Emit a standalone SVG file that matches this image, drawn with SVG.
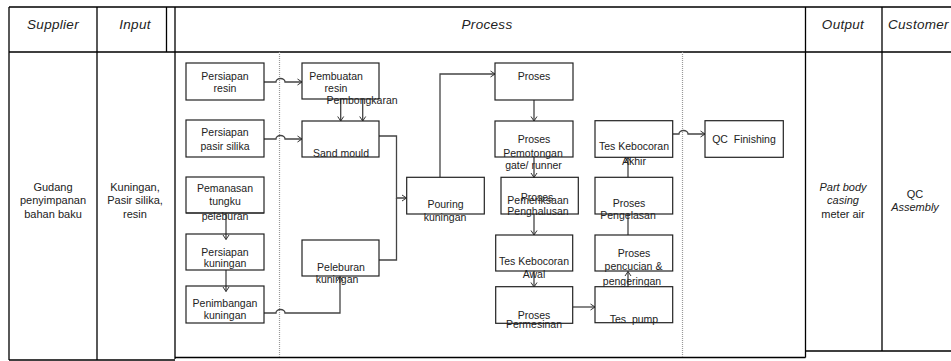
<svg xmlns="http://www.w3.org/2000/svg" width="951" height="361" viewBox="0 0 951 361">
<defs>
<marker id="arr" markerUnits="userSpaceOnUse" markerWidth="8" markerHeight="8" refX="6" refY="4" orient="auto">
<path d="M1.5,1 L6,4 L1.5,7" fill="none" stroke="#333" stroke-width="1"/>
</marker>
<style>
.tbl{stroke:#000;stroke-width:1.3;fill:none}
.dot{stroke:#999;stroke-width:1.2;stroke-dasharray:1 1;fill:none}
.box{fill:#fff;stroke:#222;stroke-width:1.2}
.cn{fill:none;stroke:#444;stroke-width:1.3}
.ca{fill:none;stroke:#444;stroke-width:1.3;marker-end:url(#arr)}
text{font-family:"Liberation Sans",Arial,sans-serif;fill:#222}
.h{font-size:13.5px;font-style:italic;letter-spacing:0.3px;text-anchor:middle}
.t{font-size:10.5px;text-anchor:middle}
.s{font-size:11px;text-anchor:middle}
.i{font-style:italic}
</style>
</defs>
<rect width="951" height="361" fill="#fff"/>
<g id="table">
<path class="tbl" d="M9,7 H951 M9,52 H951 M9,7 V360 M97,7 V360 M166.5,7 V52 M175,7 V359 M9,360 H175 M175,357.5 H805.5 M805.5,7 V357.5 M882,7 V351 M805.5,351 H951"/>
<path class="dot" d="M279.5,52 V357 M682.5,52 V357"/>
<text class="h" x="53" y="28.5">Supplier</text>
<text class="h" x="135" y="28.5">Input</text>
<text class="h" x="487" y="28.5">Process</text>
<text class="h" x="843" y="28.5">Output</text>
<text class="h" x="888" y="28.5" style="text-anchor:start">Customer</text>
</g>
<g id="supplier">
<text class="s" x="53" y="190.5">Gudang</text>
<text class="s" x="53" y="204">penyimpanan</text>
<text class="s" x="53" y="217.5">bahan baku</text>
</g>
<g id="input">
<text class="s" x="135" y="190.5">Kuningan,</text>
<text class="s" x="135" y="204">Pasir silika,</text>
<text class="s" x="135" y="217.5">resin</text>
</g>
<g id="connectors">
<path class="ca" d="M264,82 H276 A4.5,3.5 0 0 1 285,82 H302"/>
<path class="ca" d="M264,139 H276 A4.5,3.5 0 0 1 285,139 H302"/>
<path class="ca" d="M226,213 V239.5"/>
<path class="ca" d="M226,270 V291.5"/>
<path class="ca" d="M264,313 H276 A4.5,3.5 0 0 1 285,313 H340 V276.5"/>
<path class="ca" d="M340.7,99 V121"/>
<path class="ca" d="M362.7,99 V121"/>
<path class="ca" d="M379,136 H396.5 V198 H406.5"/>
<path class="cn" d="M379,260 H396.5 V198"/>
<path class="ca" d="M440,177 V74 H495"/>
<path class="ca" d="M534,100 V121"/>
<path class="ca" d="M534,157 V177.5"/>
<path class="ca" d="M534,214 V235"/>
<path class="ca" d="M534,271 V287"/>
<path class="ca" d="M573,307 H595"/>
<path class="ca" d="M628,287 V271.5"/>
<path class="cn" d="M628,235 V214"/>
<path class="ca" d="M628,177 V157.5"/>
<path class="ca" d="M673,134 H679 A4.5,3.5 0 0 1 688,134 H705"/>
</g>
<g id="persiapan-resin">
<rect class="box" x="186" y="63" width="78" height="37"/>
<text class="t" x="225" y="79.5">Persiapan</text>
<text class="t" x="225" y="91.5">resin</text>
</g>
<g id="persiapan-pasir">
<rect class="box" x="186" y="120" width="78" height="37"/>
<text class="t" x="225" y="136">Persiapan</text>
<text class="t" x="225" y="149.7">pasir silika</text>
</g>
<g id="pemanasan">
<rect class="box" x="186" y="177" width="78" height="36"/>
<text class="t" x="225" y="192">Pemanasan</text>
<text class="t" x="225" y="204.5">tungku</text>
<text class="t" x="225" y="219.7">peleburan</text>
<path d="M186,213 H264" stroke="#222" stroke-width="1.2"/>
</g>
<g id="persiapan-kuningan">
<rect class="box" x="186" y="234" width="78" height="36" fill-opacity="0"/>
<text class="t" x="225" y="255.5">Persiapan</text>
<text class="t" x="225" y="266.5">kuningan</text>
</g>
<g id="penimbangan">
<rect class="box" x="186" y="286" width="78" height="37" fill-opacity="0"/>
<text class="t" x="225" y="306.5">Penimbangan</text>
<text class="t" x="225" y="318.7">kuningan</text>
</g>
<g id="pembuatan-resin">
<rect class="box" x="302" y="63" width="77" height="36"/>
<text class="t" x="336" y="79.7">Pembuatan</text>
<text class="t" x="336" y="91.5">resin</text>
</g>
<g id="sand-mould">
<rect class="box" x="302" y="121" width="77" height="36"/>
<text class="t" x="362" y="103.7">Pembongkaran</text>
<text class="t" x="341" y="157">Sand mould</text>
</g>
<g id="peleburan">
<rect class="box" x="302" y="240" width="77" height="36"/>
<text class="t" x="341" y="270.5">Peleburan</text>
<text class="t" x="337" y="282.5">kuningan</text>
</g>
<g id="pouring">
<rect class="box" x="406.7" y="177.3" width="77.6" height="36.7"/>
<text class="t" x="445.5" y="207.7">Pouring</text>
<text class="t" x="445" y="220.5">kuningan</text>
</g>
<g id="proses">
<rect class="box" x="495" y="63" width="78" height="37"/>
<text class="t" x="534" y="79.5">Proses</text>
</g>
<g id="pemotongan">
<rect class="box" x="495" y="121" width="78" height="36" fill-opacity="0"/>
<text class="t" x="534" y="142.5">Proses</text>
<text class="t" x="533" y="156.5">Pemotongan</text>
<text class="t" x="533.5" y="168.7">gate/ runner</text>
</g>
<g id="pemeriksaan">
<rect class="box" x="501" y="177.3" width="77.3" height="36.7" fill-opacity="0"/>
<text class="t" x="537" y="201.2">Proses</text>
<text class="t" x="538" y="203.8">Pemeriksaan</text>
<text class="t" x="538" y="214.5">Penghalusan</text>
</g>
<g id="tes-awal">
<rect class="box" x="495.7" y="235" width="77" height="36" fill-opacity="0"/>
<text class="t" x="534" y="265.4">Tes Kebocoran</text>
<text class="t" x="534" y="277.7">Awal</text>
</g>
<g id="permesinan">
<rect class="box" x="495.7" y="286.7" width="77" height="36.6" fill-opacity="0"/>
<text class="t" x="534" y="318.7">Proses</text>
<text class="t" x="534" y="327.7">Permesinan</text>
</g>
<g id="tes-pump">
<rect class="box" x="595" y="286.7" width="77.7" height="36" fill-opacity="0"/>
<text class="t" x="634" y="323" xml:space="preserve">Tes  pump</text>
</g>
<g id="pencucian">
<rect class="box" x="595" y="235" width="77.7" height="36" fill-opacity="0"/>
<text class="t" x="634" y="257">Proses</text>
<text class="t" x="633.5" y="270.4">pencucian &amp;</text>
<text class="t" x="632" y="284.7">pengeringan</text>
</g>
<g id="pengelasan">
<rect class="box" x="595" y="177.3" width="77.7" height="36.7" fill-opacity="0"/>
<text class="t" x="629" y="207">Proses</text>
<text class="t" x="628" y="218.7">Pengelasan</text>
</g>
<g id="tes-akhir">
<rect class="box" x="595" y="120.7" width="77.7" height="36.6" fill-opacity="0"/>
<text class="t" x="634" y="150.4">Tes Kebocoran</text>
<text class="t" x="634" y="164.7">Akhir</text>
</g>
<g id="qc-finishing">
<rect class="box" x="705" y="120.7" width="78.3" height="36.6"/>
<text class="t" x="744" y="142.7" xml:space="preserve">QC  Finishing</text>
</g>
<g id="output">
<text class="s i" x="843" y="191">Part  body</text>
<text class="s i" x="843" y="204.4">casing</text>
<text class="s" x="843" y="218">meter air</text>
</g>
<g id="customer">
<text class="s" x="915" y="198">QC</text>
<text class="s i" x="915" y="211">Assembly</text>
</g>
</svg>
